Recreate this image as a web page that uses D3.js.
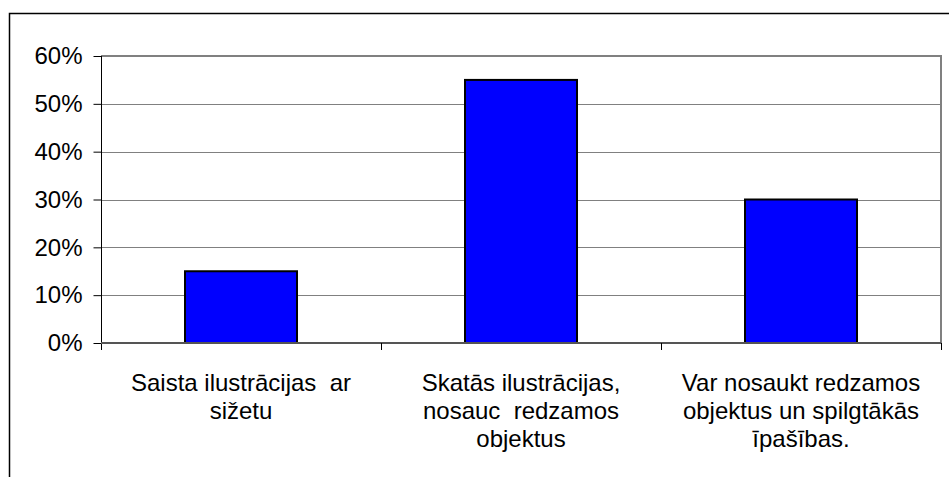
<!DOCTYPE html>
<html>
<head>
<meta charset="utf-8">
<script src="https://cdn.jsdelivr.net/npm/d3@7"></script>
<style>
  html, body { margin: 0; padding: 0; background: #fff; }
  svg { display: block; }
  text { font-family: "Liberation Sans", Arial, sans-serif; fill: #000; }
</style>
</head>
<body>
<svg id="chart" width="949" height="477"></svg>
<script>
// ---- data ----
const categories = ["c1", "c2", "c3"];
const categoryLabels = [
  ["Saista ilustrācijas  ar", "sižetu"],
  ["Skatās ilustrācijas,", "nosauc  redzamos", "objektus"],
  ["Var nosaukt redzamos", "objektus un spilgtākās", "īpašības."]
];
const values = [0.15, 0.55, 0.30];
const yTicks = [0, 0.1, 0.2, 0.3, 0.4, 0.5, 0.6];

// ---- layout ----
const W = 949, H = 477;
const plot = { left: 101, top: 56, right: 941, bottom: 343 };

const svg = d3.select("#chart");

// outer frame
svg.append("rect")
  .attr("x", 9.5).attr("y", 13.5)
  .attr("width", W + 10).attr("height", H + 10)
  .attr("fill", "#fff").attr("stroke", "#000").attr("stroke-width", 1.5);

const x = d3.scaleBand().domain(categories).range([plot.left, plot.right]).paddingInner(0).paddingOuter(0);
const y = d3.scaleLinear().domain([0, 0.6]).range([plot.bottom, plot.top]);

// gridlines
svg.append("g").selectAll("line").data(yTicks.filter(d => d > 0 && d < 0.6)).join("line")
  .attr("x1", plot.left).attr("x2", plot.right)
  .attr("y1", d => Math.round(y(d)) + 0.5).attr("y2", d => Math.round(y(d)) + 0.5)
  .attr("stroke", "#808080").attr("stroke-width", 1);

// plot border (top / right)
svg.append("path")
  .attr("d", `M${plot.left},${y(0.6)}H${plot.right}V${plot.bottom}`)
  .attr("fill", "none").attr("stroke", "#808080").attr("stroke-width", 2);

// bars
const bw = x.bandwidth() * 0.4;
svg.append("g").selectAll("rect").data(values).join("rect")
  .attr("x", (d, i) => x(categories[i]) + (x.bandwidth() - bw) / 2)
  .attr("y", d => y(d))
  .attr("width", bw)
  .attr("height", d => y(0) - y(d))
  .attr("fill", "#0000ff").attr("stroke", "#000").attr("stroke-width", 2);

// y axis
const yAxis = d3.axisLeft(y).tickValues(yTicks).tickFormat(d3.format(".0%")).tickSize(8).tickPadding(11);
const gy = svg.append("g").attr("transform", `translate(${plot.left + 0.5},0)`).call(yAxis);
gy.select(".domain").attr("stroke", "#000").attr("d", `M0,${plot.top}V${plot.bottom + 7}`);
gy.selectAll(".tick line").attr("stroke", "#000");
gy.selectAll(".tick text").attr("font-size", 24).attr("font-family", "'Liberation Sans', Arial, sans-serif").attr("fill", "#000");

// x axis baseline
svg.append("line")
  .attr("x1", plot.left).attr("x2", plot.right)
  .attr("y1", plot.bottom).attr("y2", plot.bottom)
  .attr("stroke", "#555").attr("stroke-width", 2);

// x ticks at category boundaries
const bounds = categories.map(c => x(c)).concat([x(categories[categories.length - 1]) + x.bandwidth()]);
svg.append("g").selectAll("line").data(bounds.slice(1)).join("line")
  .attr("x1", d => Math.round(d) + 0.5).attr("x2", d => Math.round(d) + 0.5)
  .attr("y1", plot.bottom).attr("y2", plot.bottom + 7)
  .attr("stroke", "#000").attr("stroke-width", 1);

// category labels
const lbl = svg.append("g").selectAll("text").data(categoryLabels).join("text")
  .attr("text-anchor", "middle")
  .attr("font-size", 24)
  .attr("xml:space", "preserve")
  .style("white-space", "pre");
lbl.each(function(lines, i) {
  const cx = x(categories[i]) + x.bandwidth() / 2;
  d3.select(this).selectAll("tspan").data(lines).join("tspan")
    .attr("x", cx)
    .attr("y", (d, j) => 391 + j * 28)
    .text(d => d);
});
</script>
</body>
</html>
